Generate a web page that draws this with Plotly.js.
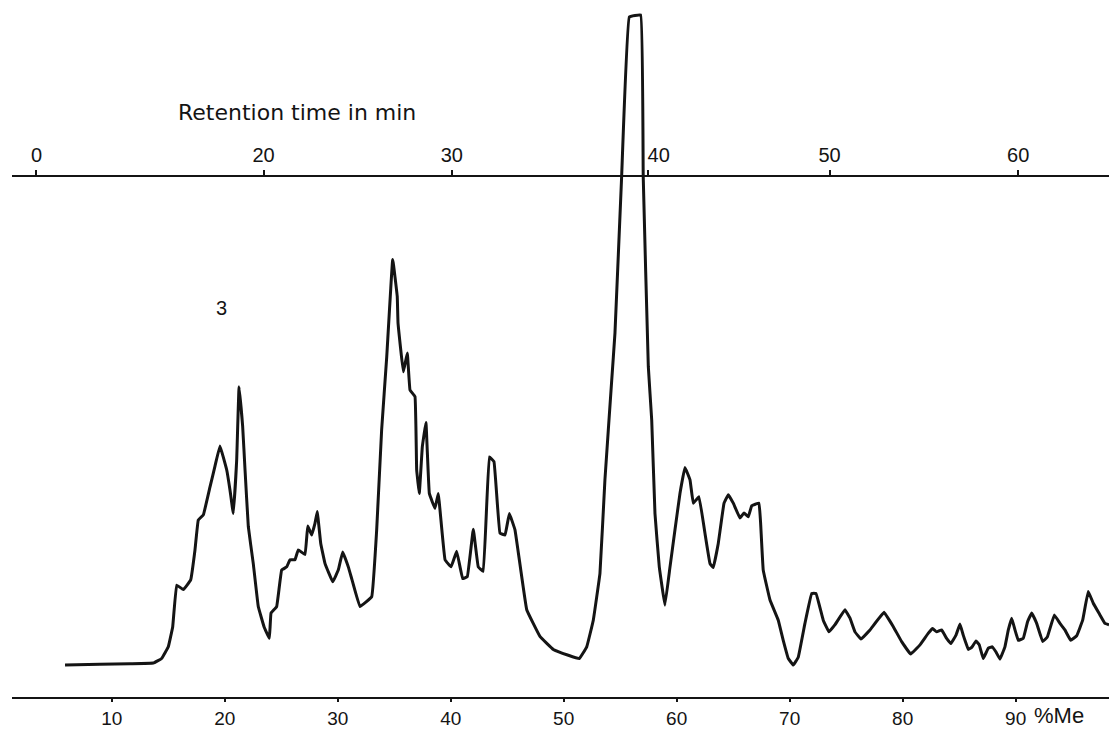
<!DOCTYPE html>
<html>
<head>
<meta charset="utf-8">
<script src="https://cdn.plot.ly/plotly-3.0.1.min.js"></script>
<style>html,body{margin:0;padding:0;background:#fff;}#chart{width:1109px;height:731px;}</style>
</head>
<body>
<div id="chart"></div>
<script>
// Methanol gradient (% Me) positions of the trace
var percentMe = [5.87,8.96,11.62,13.68,14.42,15.01,15.40,15.75,16.34,16.99,17.37,17.66,18.11,18.70,19.14,19.58,20.18,20.47,20.76,21.06,21.27,21.59,21.80,22.09,22.53,22.97,23.48,23.95,24.10,24.60,25.04,25.49,25.78,26.22,26.51,27.11,27.35,27.70,27.99,28.19,28.50,28.88,29.56,30.05,30.44,30.94,31.27,31.97,33.01,33.45,33.89,34.34,34.87,35.27,35.34,35.81,36.16,36.40,36.84,36.99,37.22,37.49,37.81,38.11,38.61,38.90,39.50,40.03,40.53,41.06,41.47,42.00,42.44,42.88,43.42,43.83,44.36,44.81,45.19,45.69,46.73,47.90,49.08,50.41,51.38,52.04,52.62,53.21,53.65,54.25,54.54,55.13,55.81,56.81,57.04,57.49,57.79,58.08,58.46,58.96,59.41,59.85,60.29,60.73,61.18,61.47,61.97,62.50,62.95,63.24,63.68,64.19,64.57,65.01,65.60,65.96,66.34,66.64,67.28,67.43,67.66,68.26,68.99,69.43,69.88,70.32,70.76,71.35,71.95,72.33,72.97,73.48,74.01,74.89,75.34,75.78,76.31,77.11,78.35,79.17,79.91,80.71,81.53,82.27,82.65,83.01,83.45,83.89,84.27,84.72,85.07,85.36,85.81,86.11,86.49,86.78,87.13,87.58,87.93,88.26,88.61,89.05,89.35,89.65,89.94,90.23,90.67,91.06,91.42,91.86,92.39,92.80,93.42,93.92,94.36,94.87,95.40,95.93,96.42,96.87,97.46,97.90,98.26];
// Detector signal (relative units, baseline = 0)
var signal = [0,0.1,0.2,0.3,1.0,2.8,5.9,12.3,11.6,13.1,17.7,22.3,23.1,27.4,30.6,33.7,30.0,26.9,23.3,31.5,42.8,36.7,30.0,21.3,15.6,9.0,5.9,4.1,8.0,9.0,14.6,15.1,16.2,16.2,17.7,17.0,21.4,20.0,21.8,23.6,18.7,15.6,12.8,14.6,17.4,15.1,13.1,9.0,10.5,20.8,36.2,47.4,62.4,56.7,52.6,45.1,48.0,42.3,41.3,30.0,26.4,33.6,37.3,26.4,24.1,26.4,16.2,15.1,17.5,13.3,13.6,20.9,15.1,14.4,32.0,31.3,20.3,20.0,23.3,20.8,8.5,4.4,2.4,1.5,1.0,2.8,6.9,14.1,28.5,43.8,51.1,75.2,99.7,100.0,75.1,45.9,37.7,23.3,15.1,9.2,15.1,20.8,26.4,30.4,28.5,24.9,25.9,20.3,15.6,15.0,18.7,24.9,26.2,24.9,22.6,23.4,22.8,24.5,24.9,21.8,14.6,10.0,6.9,3.8,1.0,0.0,1.2,6.4,11.0,11.0,6.9,5.1,6.2,8.5,7.2,5.1,4.0,5.4,8.1,5.9,3.6,1.7,3.1,4.9,5.6,5.1,5.4,4.1,3.3,4.6,6.3,4.6,2.4,2.7,3.7,3.1,1.0,2.6,2.8,2.0,0.9,2.8,5.4,7.2,5.4,3.8,4.1,6.7,8.0,6.4,3.6,4.3,7.7,6.4,5.4,3.8,4.5,6.9,11.3,9.5,7.7,6.4,6.2];
// Bottom axis ticks (% Me)
var meTicks = [10,20,30,40,50,60,70,80,90];
var meLabels = ['10','20','30','40','50','60','70','80','90'];
// Top axis: retention time (min) ticks, located on the % Me scale
var rtTickPos = [3.34,23.44,40.10,57.42,73.53,90.22];
var rtLabels = ['0','20','30','\u00a0\u00a0\u00a0\u00a040','50','60'];

var ink = '#141414';
var xr = [1.15, 98.26];

var trace = {
  x: percentMe, y: signal, type: 'scatter', mode: 'lines',
  line: {color: ink, width: 3, shape: 'spline', smoothing: 0.2},
  hoverinfo: 'skip', showlegend: false
};
// carrier trace so the retention-time axis is drawn (no visible marks)
var rtCarrier = {
  x: rtTickPos, y: rtTickPos.map(function(){ return null; }),
  xaxis: 'x2', yaxis: 'y', type: 'scatter', mode: 'lines',
  hoverinfo: 'skip', showlegend: false, line: {width: 0}
};

var layout = {
  width: 1109, height: 731,
  margin: {l: 0, r: 0, t: 0, b: 34},
  paper_bgcolor: '#fff', plot_bgcolor: '#fff',
  showlegend: false,
  xaxis: {
    domain: [0.01055, 1], range: xr,
    showgrid: false, zeroline: false,
    showline: true, linecolor: ink, linewidth: 2,
    ticks: 'outside', ticklen: 3, tickwidth: 2, tickcolor: ink,
    tickmode: 'array', tickvals: meTicks, ticktext: meLabels,
    tickfont: {family: 'Liberation Sans, Arial, sans-serif', size: 19, color: ink}
  },
  xaxis2: {
    overlaying: 'x', side: 'top', anchor: 'free', position: 0.7475,
    range: xr,
    showgrid: false, zeroline: false,
    showline: true, linecolor: ink, linewidth: 2,
    ticks: 'outside', ticklen: 5, tickwidth: 2, tickcolor: ink,
    tickmode: 'array', tickvals: rtTickPos, ticktext: rtLabels,
    tickfont: {family: 'Liberation Sans, Arial, sans-serif', size: 20, color: ink}
  },
  yaxis: {range: [-4.92, 102.31], visible: false, showgrid: false, zeroline: false, fixedrange: true},
  annotations: [
    {text: 'Retention time in min', xref: 'paper', yref: 'paper', x: 0.268, y: 0.838,
     xanchor: 'center', yanchor: 'middle', showarrow: false,
     font: {family: 'DejaVu Sans, sans-serif', size: 22, color: ink}},
    {text: '%Me', xref: 'x', yref: 'paper', x: 91.45, y: -0.0265, xanchor: 'left', yanchor: 'middle',
     showarrow: false, font: {family: 'Liberation Sans, Arial, sans-serif', size: 22, color: ink}},
    {text: '3', xref: 'x', yref: 'paper', x: 19.75, y: 0.558, xanchor: 'center', yanchor: 'middle',
     showarrow: false, font: {family: 'Liberation Sans, Arial, sans-serif', size: 20, color: ink}}
  ]
};

Plotly.newPlot('chart', [trace, rtCarrier], layout, {displayModeBar: false, staticPlot: true});
</script>
</body>
</html>
